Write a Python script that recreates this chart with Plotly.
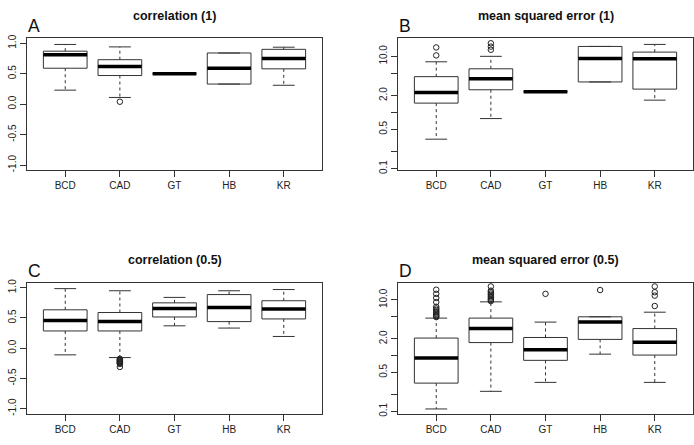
import plotly.graph_objects as go

categories = ['BCD', 'CAD', 'GT', 'HB', 'KR']

# Panel A: correlation (1)
a_lo = [0.23, 0.11, 0.50, 0.33, 0.31]
a_q1 = [0.59, 0.47, 0.50, 0.33, 0.58]
a_med = [0.81, 0.62, 0.50, 0.59, 0.75]
a_q3 = [0.87, 0.73, 0.50, 0.84, 0.90]
a_hi = [0.98, 0.94, 0.50, 0.84, 0.935]
a_out = [[], [0.04], [], [], []]

# Panel B: mean squared error (1)
b_lo = [0.335, 0.78, 2.35, 3.5, 1.66]
b_q1 = [1.47, 2.54, 2.35, 3.5, 2.61]
b_med = [2.28, 4.0, 2.35, 9.2, 9.1]
b_q3 = [4.35, 6.0, 2.35, 15.0, 11.9]
b_hi = [8.0, 10.0, 2.35, 15.0, 16.3]
b_out = [[14.4, 10.4], [17.1, 14.9, 13.1], [], [], []]

# Panel C: correlation (0.5)
c_lo = [-0.11, -0.155, 0.37, 0.333, 0.194]
c_q1 = [0.285, 0.285, 0.516, 0.44, 0.484]
c_med = [0.46, 0.44, 0.656, 0.672, 0.65]
c_q3 = [0.635, 0.59, 0.75, 0.887, 0.785]
c_hi = [0.985, 0.95, 0.84, 0.95, 0.97]
c_out = [[], [-0.175, -0.19, -0.20, -0.21, -0.22, -0.23, -0.24, -0.25, -0.26, -0.31], [], [], []]

# Panel D: mean squared error (0.5)
d_lo = [0.11, 0.228, 0.33, 1.06, 0.33]
d_q1 = [0.32, 1.71, 0.82, 1.95, 1.02]
d_med = [0.90, 3.05, 1.27, 3.98, 1.73]
d_q3 = [2.06, 4.7, 2.11, 4.96, 3.05]
d_hi = [4.7, 9.2, 3.98, 4.96, 6.0]
d_out = [[15.2, 12.8, 10.8, 9.1, 7.5, 7.0, 6.6, 6.2, 5.9, 5.6, 5.3, 5.1, 4.9],
         [17.4, 14.6, 13.8, 13.0, 12.3, 11.6, 11.0, 10.4, 9.9, 9.5],
         [12.8], [15.0], [17.4, 13.7, 11.9, 7.75]]

corr_ticks = [-1.0, -0.5, 0.0, 0.5, 1.0]
corr_ticktext = ['-1.0', '-0.5', '0.0', '0.5', '1.0']
mse_ticks = [0.1, 0.2, 0.5, 1, 2, 5, 10]
mse_ticktext = ['0.1', '', '0.5', '', '2.0', '', '10.0']

panels = [
    dict(letter='A', title='correlation (1)', log=False, lo=a_lo, q1=a_q1, med=a_med, q3=a_q3, hi=a_hi, out=a_out),
    dict(letter='B', title='mean squared error (1)', log=True, lo=b_lo, q1=b_q1, med=b_med, q3=b_q3, hi=b_hi, out=b_out),
    dict(letter='C', title='correlation (0.5)', log=False, lo=c_lo, q1=c_q1, med=c_med, q3=c_q3, hi=c_hi, out=c_out),
    dict(letter='D', title='mean squared error (0.5)', log=True, lo=d_lo, q1=d_q1, med=d_med, q3=d_q3, hi=d_hi, out=d_out),
]

W, H = 694, 445
# plot-area pixel boxes (left, right, top, bottom)
boxes = [(27, 322, 35, 169), (398, 693, 35, 169), (27, 322, 284, 417), (398, 693, 284, 417)]
yranges = [[-1.08, 1.08], [-1.023, 1.32], [-1.08, 1.08], [-1.04, 1.304]]

LINE = '#333333'
FONT = 'Liberation Sans, Arial, Helvetica, sans-serif'

fig = go.Figure()
layout = dict(width=W, height=H, margin=dict(l=0, r=0, t=0, b=0),
              paper_bgcolor='white', plot_bgcolor='white', showlegend=False,
              font=dict(family=FONT, color='#222222'))
annotations = []

for k, p in enumerate(panels):
    n = k + 1
    xa = 'x' if n == 1 else f'x{n}'
    ya = 'y' if n == 1 else f'y{n}'
    bxs, bys, mx, my, wx, wy, cx, cy, ox, oy = [], [], [], [], [], [], [], [], [], []
    for i in range(len(categories)):
        x = i + 1
        l, r = x - 0.4, x + 0.4
        bxs += [l, r, r, l, l, None]
        bys += [p['q1'][i], p['q1'][i], p['q3'][i], p['q3'][i], p['q1'][i], None]
        mx += [l, r, None]
        my += [p['med'][i], p['med'][i], None]
        wx += [x, x, None, x, x, None]
        wy += [p['q3'][i], p['hi'][i], None, p['q1'][i], p['lo'][i], None]
        cx += [x - 0.2, x + 0.2, None, x - 0.2, x + 0.2, None]
        cy += [p['hi'][i], p['hi'][i], None, p['lo'][i], p['lo'][i], None]
        for v in p['out'][i]:
            ox.append(x)
            oy.append(v)
    common = dict(xaxis=xa, yaxis=ya, hoverinfo='skip', showlegend=False)
    fig.add_trace(go.Scatter(x=wx, y=wy, mode='lines', line=dict(color=LINE, width=1, dash='3px,3px'), **common))
    fig.add_trace(go.Scatter(x=cx, y=cy, mode='lines', line=dict(color=LINE, width=1), **common))
    fig.add_trace(go.Scatter(x=bxs, y=bys, mode='lines', line=dict(color=LINE, width=1), fill=None, **common))
    fig.add_trace(go.Scatter(x=mx, y=my, mode='lines', line=dict(color='#000000', width=3.5), **common))
    fig.add_trace(go.Scatter(x=ox, y=oy, mode='markers',
                             marker=dict(symbol='circle-open', size=5.5, color='#222222', line=dict(width=1)), **common))

    L, R, T, B = boxes[k]
    xdom = [L / W, R / W]
    ydom = [1 - B / H, 1 - T / H]
    xkey = 'xaxis' if n == 1 else f'xaxis{n}'
    ykey = 'yaxis' if n == 1 else f'yaxis{n}'
    layout[xkey] = dict(domain=xdom, anchor=ya, range=[0.3, 5.7], tickvals=[1, 2, 3, 4, 5],
                        ticktext=categories, ticks='outside', ticklen=6, tickcolor=LINE,
                        showline=True, mirror=True, linecolor=LINE, linewidth=1,
                        showgrid=False, zeroline=False, tickfont=dict(size=10, color='#222222'))
    if p['log']:
        yax = dict(type='log', range=yranges[k], tickvals=mse_ticks, ticktext=mse_ticktext)
    else:
        yax = dict(range=yranges[k], tickvals=corr_ticks, ticktext=corr_ticktext)
    yax.update(domain=ydom, anchor=xa, ticks='outside', ticklen=6, tickcolor=LINE,
               showline=True, mirror=True, linecolor=LINE, linewidth=1, tickangle=-90,
               showgrid=False, zeroline=False, tickfont=dict(size=10, color='#222222'))
    layout[ykey] = yax

    annotations.append(dict(text=f"<b>{p['title']}</b>", xref='paper', yref='paper',
                            x=(L + R) / 2 / W, y=1 - (T - 23) / H, xanchor='center', yanchor='middle',
                            showarrow=False, font=dict(size=12.5, family=FONT, color='#111111')))
    annotations.append(dict(text=p['letter'], xref='paper', yref='paper',
                            x=(L - 1) / W, y=1 - (T - 12.5) / H, xanchor='left', yanchor='middle',
                            showarrow=False, font=dict(size=17.5, family=FONT, color='#111111')))

layout['annotations'] = annotations
fig.update_layout(**layout)
fig.write_html('out.html', config={'displayModeBar': False},
               post_script="document.body.style.margin='0px';document.body.style.overflow='hidden';")
